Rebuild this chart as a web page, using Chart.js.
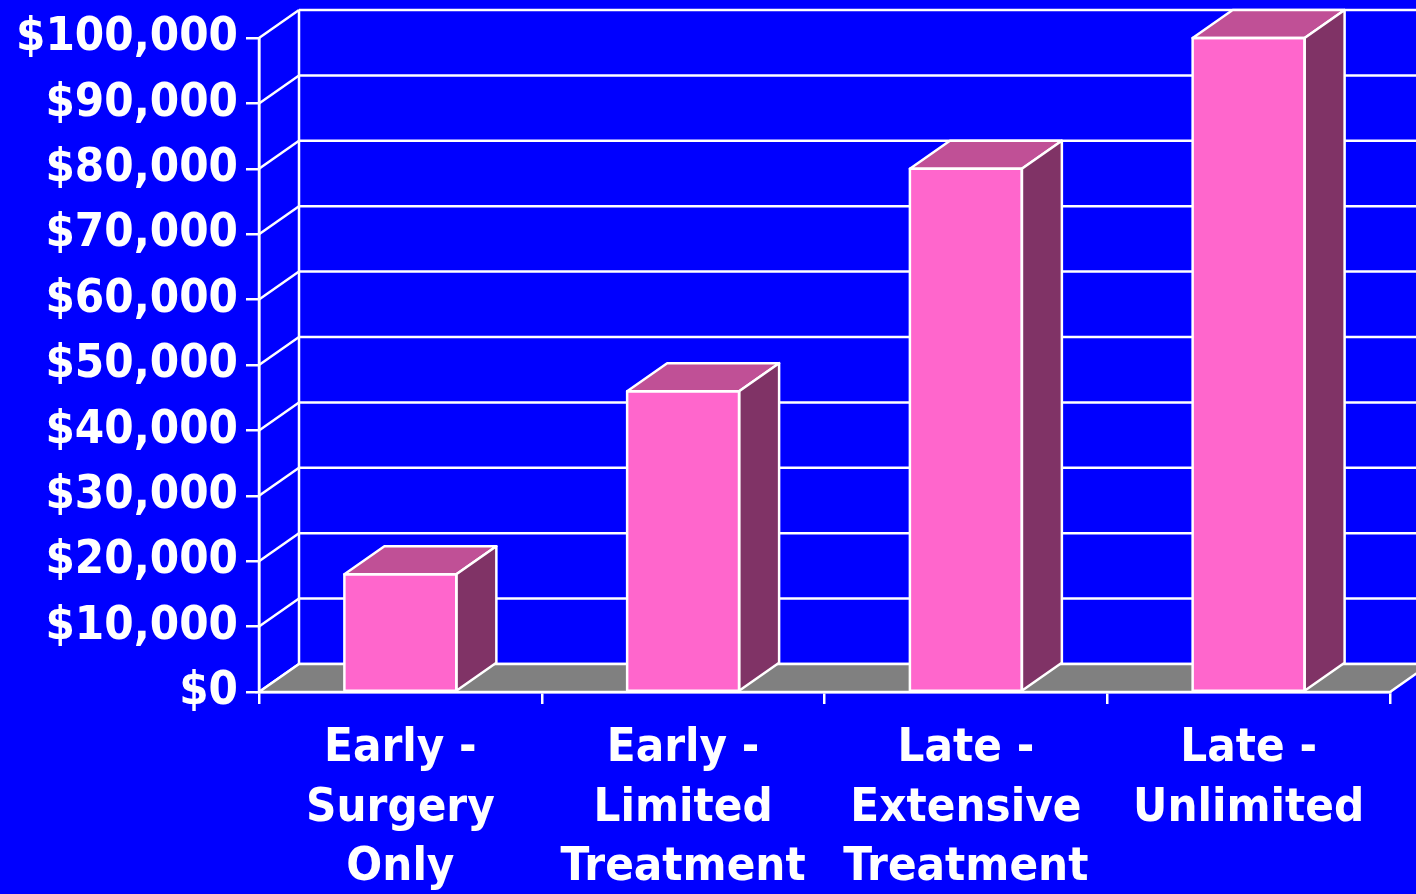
<!DOCTYPE html>
<html>
<head>
<meta charset="utf-8">
<script src="https://cdn.jsdelivr.net/npm/chart.js@4.4.0/dist/chart.umd.min.js"></script>
<style>
    html, body { margin: 0; padding: 0; background: #0000FF; }
    #wrap { width: 1416px; height: 894px; position: relative; }
</style>
</head>
<body>
<div id="wrap"><canvas id="cost-chart"></canvas></div>
<script>
// Chart data
const categories = [
    ['Early -', 'Surgery', 'Only'],
    ['Early -', 'Limited', 'Treatment'],
    ['Late -', 'Extensive', 'Treatment'],
    ['Late -', 'Unlimited']
];
const costs = [18000, 46000, 80000, 100000];
const yTicks = [0, 10000, 20000, 30000, 40000, 50000, 60000, 70000, 80000, 90000, 100000];

// 3D look
const DEPTH_X = 40;
const DEPTH_Y = -28;
const LINE = '#FFFFFF';
const FRONT = '#FF66CC';
const TOP = '#C05096';
const SIDE = '#803366';
const FLOOR = '#808080';
const FONT = "'DejaVu Sans Condensed', 'DejaVu Sans', sans-serif";

function poly(ctx, pts, fill) {
    ctx.beginPath();
    ctx.moveTo(pts[0][0], pts[0][1]);
    for (let i = 1; i < pts.length; i++) ctx.lineTo(pts[i][0], pts[i][1]);
    ctx.closePath();
    if (fill) {
        ctx.fillStyle = fill;
        ctx.fill();
    }
    ctx.stroke();
}

// walls and floor behind the bars
const wallsPlugin = {
    id: 'walls',
    beforeDatasetsDraw(chart) {
        const ctx = chart.ctx;
        const y = chart.scales.y;
        const left = chart.chartArea.left;
        const right = chart.chartArea.right;
        ctx.save();
        ctx.strokeStyle = LINE;
        ctx.lineWidth = 2.5;

        // back wall grid + left wall diagonals
        yTicks.forEach(v => {
            const py = y.getPixelForValue(v);
            ctx.beginPath();
            ctx.moveTo(left + DEPTH_X, py + DEPTH_Y);
            ctx.lineTo(right + DEPTH_X + 60, py + DEPTH_Y);
            ctx.stroke();
            ctx.beginPath();
            ctx.moveTo(left, py);
            ctx.lineTo(left + DEPTH_X, py + DEPTH_Y);
            ctx.stroke();
        });
        const y0 = y.getPixelForValue(0);
        const yMax = y.getPixelForValue(yTicks[yTicks.length - 1]);
        ctx.beginPath();
        ctx.moveTo(left + DEPTH_X, y0 + DEPTH_Y);
        ctx.lineTo(left + DEPTH_X, yMax + DEPTH_Y);
        ctx.stroke();

        // floor
        poly(ctx, [
            [left, y0], [right, y0],
            [right + DEPTH_X, y0 + DEPTH_Y], [left + DEPTH_X, y0 + DEPTH_Y]
        ], FLOOR);

        // front axis line
        ctx.beginPath();
        ctx.moveTo(left, y0);
        ctx.lineTo(left, yMax);
        ctx.stroke();
        ctx.restore();
    },
    afterDatasetsDraw(chart) {
        const ctx = chart.ctx;
        const meta = chart.getDatasetMeta(0);
        ctx.save();
        ctx.strokeStyle = LINE;
        ctx.lineWidth = 2.5;
        ctx.lineJoin = 'round';
        meta.data.forEach(bar => {
            const p = bar.getProps(['x', 'y', 'base', 'width'], true);
            const xl = p.x - p.width / 2;
            const xr = p.x + p.width / 2;
            const yt = p.y;
            const yb = p.base;
            // top face
            poly(ctx, [
                [xl, yt], [xr, yt],
                [xr + DEPTH_X, yt + DEPTH_Y], [xl + DEPTH_X, yt + DEPTH_Y]
            ], TOP);
            // side face
            poly(ctx, [
                [xr, yt], [xr + DEPTH_X, yt + DEPTH_Y],
                [xr + DEPTH_X, yb + DEPTH_Y], [xr, yb]
            ], SIDE);
            // front outline
            poly(ctx, [[xl, yt], [xr, yt], [xr, yb], [xl, yb]], null);
        });
        ctx.restore();
    }
};

const ctx = document.getElementById('cost-chart').getContext('2d');
new Chart(ctx, {
    type: 'bar',
    data: {
        labels: categories,
        datasets: [{
            data: costs,
            backgroundColor: FRONT,
            borderWidth: 0,
            categoryPercentage: 1,
            barPercentage: 0.396
        }]
    },
    options: {
        responsive: true,
        maintainAspectRatio: false,
        animation: false,
        layout: {
            padding: { top: 38, right: 26, left: 0, bottom: 0 }
        },
        plugins: {
            legend: { display: false },
            tooltip: { enabled: false }
        },
        scales: {
            x: {
                offset: true,
                afterFit(scale) { scale.height = 202; },
                border: { display: true, color: LINE, width: 2.5 },
                grid: {
                    offset: true,
                    drawOnChartArea: false,
                    drawTicks: true,
                    tickLength: 12,
                    color: LINE,
                    lineWidth: 2.5
                },
                ticks: {
                    color: '#FFFFFF',
                    autoSkip: false,
                    maxRotation: 0,
                    minRotation: 0,
                    padding: 15,
                    font: { family: FONT, size: 47, weight: 'bold', lineHeight: 1.27 }
                }
            },
            y: {
                min: 0,
                max: 100000,
                afterFit(scale) { scale.width = 259; },
                border: { display: true, color: LINE, width: 2.5 },
                grid: {
                    drawOnChartArea: false,
                    drawTicks: true,
                    tickLength: 13,
                    color: LINE,
                    lineWidth: 2.5
                },
                afterBuildTicks(scale) {
                    scale.ticks = yTicks.map(v => ({ value: v }));
                },
                ticks: {
                    color: '#FFFFFF',
                    autoSkip: false,
                    padding: 8,
                    font: { family: FONT, size: 47, weight: 'bold' },
                    callback: v => '$' + Number(v).toLocaleString('en-US')
                }
            }
        }
    },
    plugins: [wallsPlugin]
});
</script>
</body>
</html>
